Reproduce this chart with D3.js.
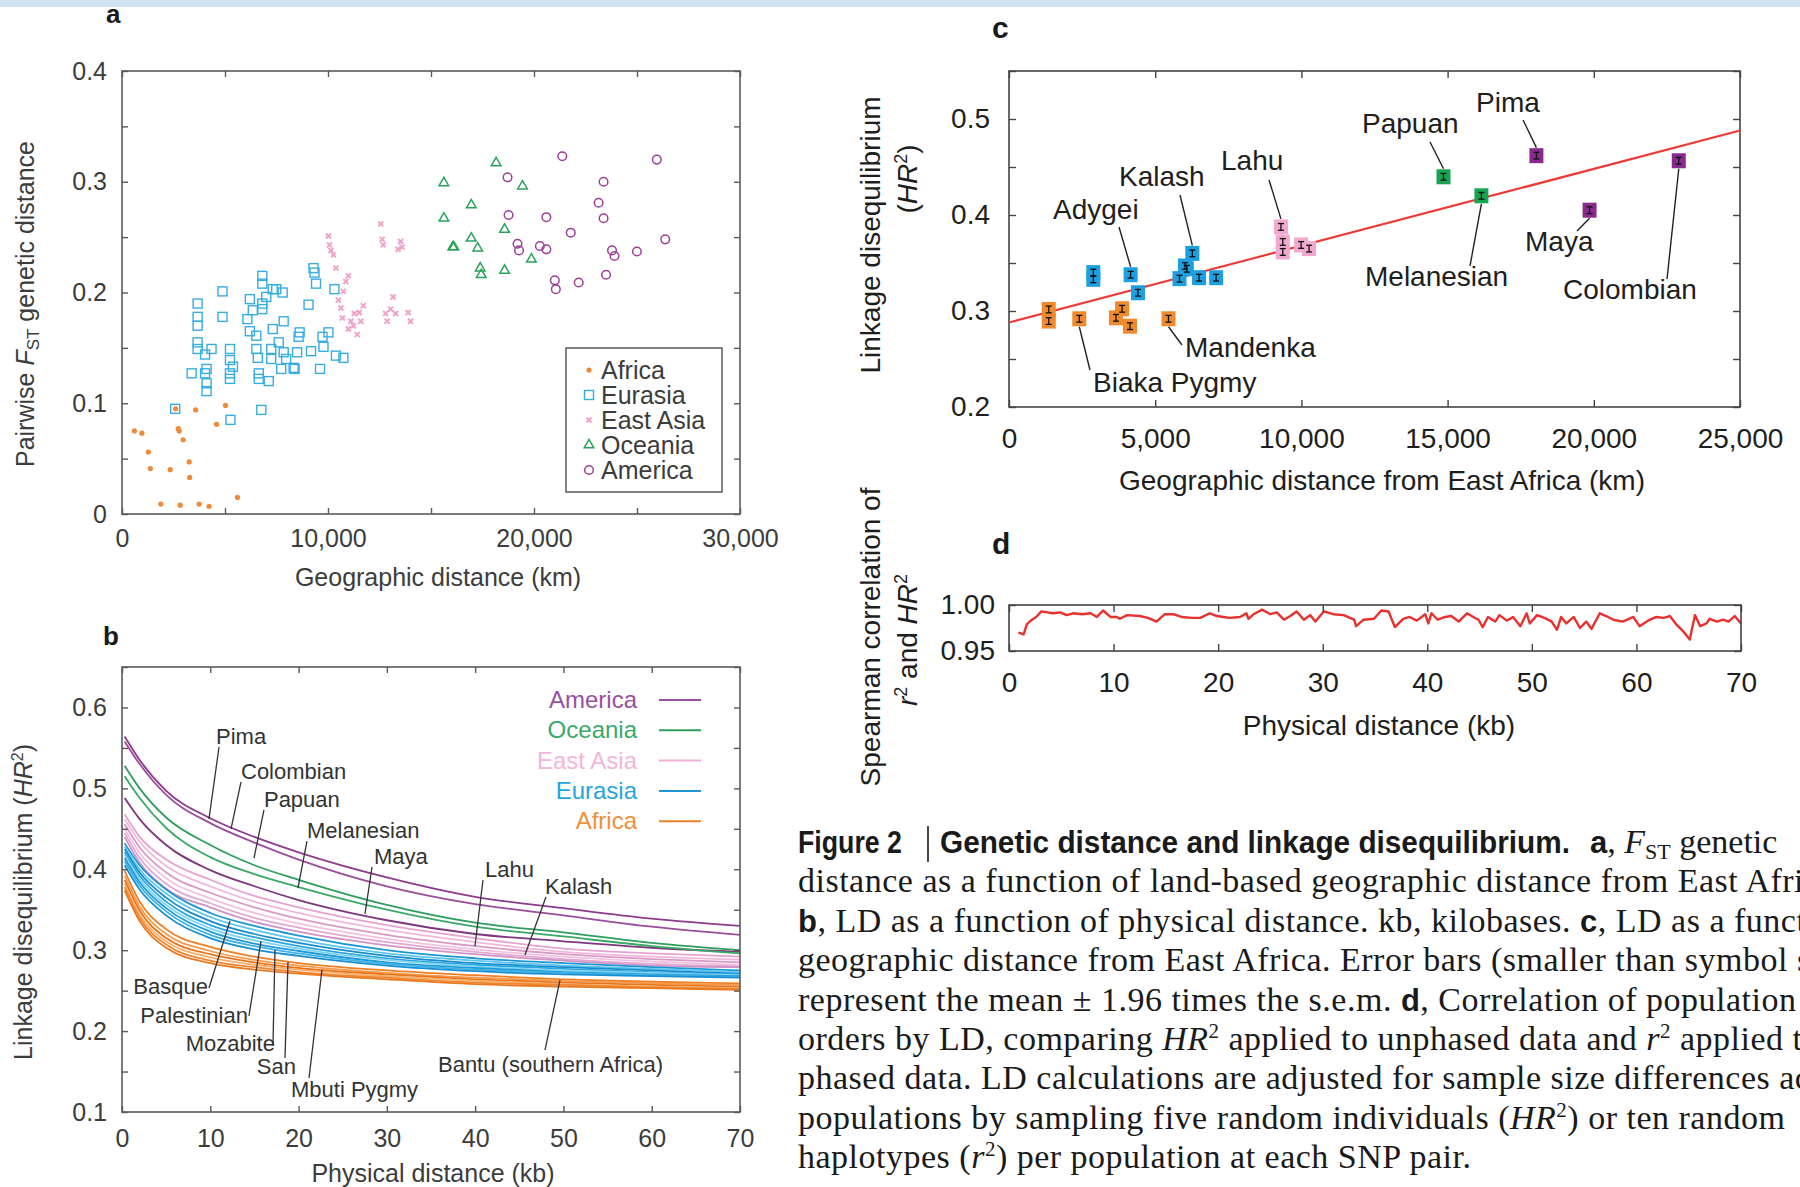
<!DOCTYPE html>
<html>
<head>
<meta charset="utf-8">
<script src="https://cdn.jsdelivr.net/npm/d3@7"></script>
<style>
  html, body { margin: 0; padding: 0; background: #fff; overflow: hidden; }
  svg { display: block; }
  svg text { font-family: "Liberation Sans", Arial, sans-serif; }
  svg text.cap { font-family: "Liberation Serif", "Times New Roman", serif; }
  svg text .bs, svg text.bs { font-family: "Liberation Sans Narrow", "Liberation Sans", Arial, sans-serif; font-weight: bold; }
</style>
</head>
<body>
<svg id="fig" width="1800" height="1187"></svg>
<script>
// ---------- panel a: pairwise FST vs geographic distance (km, FST) ----------
const fstAfrica = [[604,0.075],[966,0.073],[1280,0.056],[1377,0.041],[2343,0.040],[1884,0.009],[2826,0.008],
  [2729,0.077],[2778,0.075],[2971,0.067],[3261,0.047],[3285,0.033],[3575,0.094],[3744,0.009],[4227,0.007],
  [4589,0.081],[5024,0.098],[5604,0.015],[2600,0.095]];
const fstEurasia = [[2584,0.095],[3671,0.190],[3671,0.178],[3671,0.170],[3671,0.155],[3671,0.149],[3381,0.127],
  [4033,0.127],[4033,0.144],[4106,0.131],[4106,0.118],[4106,0.111],[4347,0.149],[4878,0.201],[4878,0.178],
  [5241,0.149],[5241,0.139],[5241,0.127],[5241,0.122],[5385,0.133],[5265,0.085],[6086,0.176],[6207,0.194],
  [6207,0.165],[6351,0.184],[6521,0.161],[6521,0.149],[6593,0.141],[6641,0.127],[6641,0.122],[6762,0.094],
  [6810,0.215],[6810,0.208],[6810,0.190],[6810,0.185],[7004,0.196],[7124,0.120],[7245,0.149],[7245,0.140],
  [7317,0.203],[7317,0.167],[7487,0.203],[7607,0.155],[7728,0.131],[7800,0.200],[7849,0.174],[7849,0.146],
  [7970,0.140],[8332,0.132],[8380,0.131],[8501,0.146],[8573,0.160],[8622,0.164],[9056,0.189],[9177,0.147],
  [9298,0.222],[9346,0.218],[9419,0.208],[9612,0.131],[9732,0.160],[9781,0.151],[10022,0.164],[10312,0.203],
  [10385,0.143],[10747,0.141]];
const fstEastAsia = [[10022,0.251],[10070,0.243],[10143,0.238],[10264,0.234],[10385,0.222],[10505,0.193],
  [10626,0.186],[10698,0.177],[10747,0.201],[10868,0.210],[10988,0.215],[10988,0.167],[11109,0.174],
  [11230,0.170],[11278,0.181],[11423,0.162],[11520,0.182],[11713,0.188],[11592,0.174],[12558,0.262],
  [12630,0.248],[12679,0.243],[12800,0.181],[12872,0.174],[13041,0.185],[13162,0.196],[13282,0.181],
  [13403,0.239],[13524,0.246],[13597,0.241],[13887,0.182],[14007,0.174]];
const fstOceania = [[15625,0.299],[15625,0.267],[16060,0.241],[16110,0.241],[16954,0.279],[16954,0.249],
  [17268,0.240],[17389,0.222],[17437,0.216],[18162,0.317],[18572,0.257],[18572,0.220],[19441,0.296],[19875,0.230]];
const fstAmerica = [[18716,0.304],[18765,0.270],[19200,0.244],[19272,0.238],[20286,0.242],[20600,0.268],
  [20600,0.239],[21011,0.211],[21059,0.203],[21373,0.323],[21783,0.254],[22170,0.209],[23136,0.281],
  [23377,0.300],[23377,0.267],[23498,0.216],[23788,0.238],[23909,0.233],[24995,0.237],[25961,0.320],[26372,0.248]];

// ---------- panel b: LD decay curves (kb, HR2) ----------
const ldKb = [0.3, 2, 5, 10, 15, 20, 30, 40, 50, 60, 70];
const ldAmerica = [
  [0.564,0.535,0.497,0.463,0.440,0.421,0.390,0.366,0.352,0.339,0.330],
  [0.558,0.530,0.492,0.457,0.433,0.412,0.379,0.357,0.343,0.329,0.319],
  [0.488,0.462,0.430,0.399,0.379,0.362,0.337,0.320,0.311,0.303,0.298]];
const ldOceania = [
  [0.528,0.500,0.464,0.430,0.405,0.387,0.356,0.334,0.322,0.309,0.300],
  [0.515,0.488,0.451,0.415,0.394,0.378,0.350,0.329,0.317,0.305,0.296]];
const ldEastAsia = [
  [0.468,0.440,0.412,0.387,0.367,0.353,0.331,0.315,0.302,0.296,0.292],
  [0.462,0.434,0.404,0.379,0.360,0.346,0.325,0.310,0.298,0.292,0.288],
  [0.456,0.427,0.396,0.371,0.353,0.339,0.319,0.305,0.295,0.289,0.285],
  [0.450,0.420,0.389,0.364,0.346,0.333,0.314,0.301,0.292,0.286,0.282],
  [0.445,0.414,0.382,0.358,0.340,0.328,0.310,0.298,0.289,0.283,0.280],
  [0.440,0.408,0.376,0.353,0.335,0.323,0.306,0.295,0.287,0.281,0.279]];
const ldEurasia = [
  [0.432,0.405,0.375,0.346,0.330,0.318,0.300,0.290,0.284,0.279,0.275],
  [0.428,0.400,0.370,0.341,0.325,0.313,0.296,0.287,0.281,0.277,0.273],
  [0.425,0.396,0.365,0.336,0.320,0.309,0.293,0.284,0.279,0.275,0.271],
  [0.421,0.392,0.360,0.331,0.316,0.305,0.290,0.282,0.277,0.273,0.270],
  [0.418,0.388,0.356,0.327,0.312,0.302,0.288,0.280,0.275,0.272,0.269],
  [0.414,0.384,0.352,0.323,0.308,0.299,0.285,0.278,0.273,0.270,0.268],
  [0.410,0.380,0.348,0.319,0.305,0.296,0.283,0.276,0.272,0.269,0.267],
  [0.405,0.375,0.343,0.315,0.301,0.293,0.281,0.274,0.270,0.268,0.266]];
const ldAfrica = [
  [0.398,0.360,0.326,0.304,0.292,0.284,0.275,0.269,0.264,0.261,0.259],
  [0.392,0.354,0.320,0.299,0.288,0.281,0.272,0.266,0.262,0.259,0.257],
  [0.387,0.349,0.315,0.295,0.285,0.278,0.270,0.264,0.260,0.257,0.255],
  [0.382,0.344,0.311,0.291,0.282,0.276,0.268,0.262,0.258,0.255,0.253],
  [0.378,0.340,0.307,0.287,0.279,0.273,0.266,0.260,0.257,0.254,0.252],
  [0.374,0.336,0.303,0.284,0.276,0.271,0.264,0.258,0.255,0.253,0.251]];

// ---------- panel c: LD vs distance from East Africa (km, HR2) ----------
const ldcAfrica = [[1359,0.3016],[1359,0.2895],[2404,0.2919],[3658,0.2929],[3867,0.3023],[4138,0.2842],[5455,0.2919]];
const ldcEurasia = [[2884,0.3400],[2884,0.3330],[4159,0.3378],[4410,0.3190],[5831,0.3337],[6019,0.3469],
  [6082,0.3440],[6270,0.3600],[6500,0.3347],[7085,0.3347]];
const ldcEastAsia = [[9300,0.3876],[9363,0.3719],[9363,0.3615],[9990,0.3688],[10262,0.3650]];
const ldcOceania = [[14860,0.4398],[16156,0.4200]];
const ldcAmerica = [[18037,0.4618],[19855,0.4050],[22906,0.4565]];
const ldcFit = [[0,0.288],[25000,0.488]];
const ldcErr = 0.0035;

// ---------- panel d: Spearman correlation (kb, rho) ----------
const spearman = [[0.9,0.970],[1.4,0.968],[1.7,0.979],[2.2,0.984],[2.6,0.987],[3.1,0.993],[4.2,0.991],[4.9,0.992],
  [5.5,0.989],[6.2,0.991],[7.0,0.990],[7.8,0.991],[8.4,0.987],[9.0,0.994],[9.7,0.987],[10.3,0.987],[10.6,0.985],
  [11.3,0.989],[12.5,0.988],[13.3,0.986],[14.1,0.982],[14.9,0.990],[15.7,0.990],[16.5,0.987],[17.5,0.986],
  [18.3,0.986],[19.2,0.991],[19.9,0.988],[20.5,0.987],[21.1,0.986],[22.1,0.987],[22.7,0.991],[22.9,0.985],
  [23.4,0.990],[24.2,0.995],[25.0,0.990],[25.6,0.992],[26.3,0.984],[26.9,0.988],[27.5,0.993],[28.2,0.984],
  [28.8,0.989],[29.3,0.982],[30.1,0.993],[31.0,0.990],[32.0,0.989],[33.0,0.984],[33.2,0.977],[33.9,0.984],
  [34.9,0.985],[35.6,0.994],[36.3,0.993],[36.9,0.976],[37.7,0.985],[38.3,0.987],[39.0,0.983],[39.8,0.990],
  [40.1,0.980],[40.4,0.991],[41.0,0.984],[41.7,0.987],[42.3,0.988],[43.0,0.982],[43.8,0.991],[44.4,0.987],
  [44.9,0.984],[45.3,0.976],[45.8,0.987],[46.5,0.982],[46.9,0.989],[47.6,0.983],[48.2,0.987],[48.9,0.977],
  [49.5,0.991],[49.8,0.980],[50.5,0.989],[51.2,0.986],[51.9,0.982],[52.4,0.973],[52.8,0.987],[53.3,0.980],
  [54.0,0.987],[54.6,0.975],[55.2,0.982],[55.7,0.974],[56.5,0.991],[57.1,0.988],[57.8,0.984],[58.7,0.982],
  [59.7,0.987],[60.3,0.977],[61.1,0.983],[61.9,0.987],[62.6,0.986],[63.2,0.988],[63.8,0.979],[64.5,0.971],
  [65.1,0.9625],[65.6,0.989],[66.1,0.977],[66.7,0.980],[67.0,0.985],[67.7,0.982],[68.3,0.984],[68.8,0.982],
  [69.4,0.988],[70.0,0.980]];

// ---------- ticks ----------
const fstXTicks = [0,5000,10000,15000,20000,25000,30000];
const fstXLabels = [0,10000,20000,30000];
const fstYTicks = [0,0.05,0.1,0.15,0.2,0.25,0.3,0.35,0.4];
const fstYLabels = [0,0.1,0.2,0.3,0.4];
const ldXTicks = [0,10,20,30,40,50,60,70];
const ldYTicks = [0.1,0.15,0.2,0.25,0.3,0.35,0.4,0.45,0.5,0.55,0.6,0.65];
const ldYLabels = [0.1,0.2,0.3,0.4,0.5,0.6];
const ldcXTicks = [0,5000,10000,15000,20000,25000];
const ldcYTicks = [0.2,0.25,0.3,0.35,0.4,0.45,0.5,0.55];
const ldcYLabels = [0.2,0.3,0.4,0.5];
const rhoYTicks = [0.95,1.0];

const svg = d3.select("#fig");
const near = (arr, v) => arr.some(a => Math.abs(a - v) < 1e-9);

// faint scan band at the top of the page
svg.append("rect").attr("width", 1800).attr("height", 7).attr("fill", "#d4e3f0");

function frame(g, x, y, o) {
  const [xa, xb] = x.range(), [ya, yb] = y.range();
  const style = sel => {
    sel.attr("font-family", null).attr("font-size", null);
    sel.select(".domain").remove();
    sel.selectAll(".tick line").attr("stroke", o.ink).attr("stroke-width", 1.4);
    sel.selectAll("text").attr("fill", o.text).style("font-size", o.fs + "px");
  };
  g.append("g").attr("transform", `translate(0,${ya})`)
    .call(d3.axisBottom(x).tickValues(o.xt).tickSizeInner(-o.tk).tickSizeOuter(0).tickPadding(o.px)
      .tickFormat(v => near(o.xl, v) ? o.fx(v) : "")).call(style);
  g.append("g").attr("transform", `translate(0,${yb})`)
    .call(d3.axisTop(x).tickValues(o.xt).tickSizeInner(-o.tk).tickSizeOuter(0).tickFormat("")).call(style);
  g.append("g").attr("transform", `translate(${xa},0)`)
    .call(d3.axisLeft(y).tickValues(o.yt).tickSizeInner(-o.tk).tickSizeOuter(0).tickPadding(o.py)
      .tickFormat(v => near(o.yl, v) ? o.fy(v) : "")).call(style);
  g.append("g").attr("transform", `translate(${xb},0)`)
    .call(d3.axisRight(y).tickValues(o.yt).tickSizeInner(-o.tk).tickSizeOuter(0).tickFormat("")).call(style);
  g.append("rect").attr("x", xa).attr("y", yb).attr("width", xb - xa).attr("height", ya - yb)
    .attr("fill", "none").attr("stroke", o.ink).attr("stroke-width", 1.6);
}

function panelLetter(t, x, y, size) {
  svg.append("text").attr("x", x).attr("y", y).text(t)
    .attr("font-weight", "bold").attr("font-size", size).attr("fill", "#1a1a1a");
}

// ================= panel a =================
{
  const g = svg.append("g");
  const x = d3.scaleLinear().domain([0, 30000]).range([122, 740]);
  const y = d3.scaleLinear().domain([0, 0.4]).range([514, 71]);
  const ink = "#5a5a5a", txt = "#3c3c3c";
  panelLetter("a", 106, 23, 26);
  frame(g, x, y, { xt: fstXTicks, xl: fstXLabels, fx: d3.format(","), yt: fstYTicks, yl: fstYLabels,
    fy: d => d === 0 ? "0" : d3.format(".1f")(d), tk: 6, px: 15, py: 15, fs: 25, ink, text: txt });

  const col = { africa: "#ee8a3a", eurasia: "#38ade2", eastAsia: "#efa3cb", oceania: "#2aa35a", america: "#9c3f98" };

  g.append("g").selectAll("rect").data(fstEurasia).join("rect")
    .attr("x", d => x(d[0]) - 4.5).attr("y", d => y(d[1]) - 4.5).attr("width", 9).attr("height", 9)
    .attr("fill", "none").attr("stroke", col.eurasia).attr("stroke-width", 1.4);
  g.append("g").selectAll("circle").data(fstAfrica).join("circle")
    .attr("cx", d => x(d[0])).attr("cy", d => y(d[1])).attr("r", 2.6).attr("fill", col.africa);
  const times = d3.symbol(d3.symbolTimes, 18);
  g.append("g").selectAll("path").data(fstEastAsia).join("path")
    .attr("d", times).attr("transform", d => `translate(${x(d[0])},${y(d[1])})`)
    .attr("fill", "none").attr("stroke", col.eastAsia).attr("stroke-width", 2);
  const tri = d3.symbol(d3.symbolTriangle, 40);
  g.append("g").selectAll("path").data(fstOceania).join("path")
    .attr("d", tri).attr("transform", d => `translate(${x(d[0])},${y(d[1])})`)
    .attr("fill", "none").attr("stroke", col.oceania).attr("stroke-width", 1.5);
  g.append("g").selectAll("circle").data(fstAmerica).join("circle")
    .attr("cx", d => x(d[0])).attr("cy", d => y(d[1])).attr("r", 4.3)
    .attr("fill", "none").attr("stroke", col.america).attr("stroke-width", 1.5);

  // legend
  const lg = g.append("g");
  lg.append("rect").attr("x", 566).attr("y", 348).attr("width", 156).attr("height", 144)
    .attr("fill", "#fff").attr("stroke", ink).attr("stroke-width", 1.5);
  const items = ["Africa", "Eurasia", "East Asia", "Oceania", "America"];
  const keys = ["africa", "eurasia", "eastAsia", "oceania", "america"];
  items.forEach((name, i) => {
    const cy = 370 + i * 25, cx = 589;
    const k = keys[i];
    if (k === "africa") lg.append("circle").attr("cx", cx).attr("cy", cy).attr("r", 2.6).attr("fill", col[k]);
    if (k === "eurasia") lg.append("rect").attr("x", cx - 4.5).attr("y", cy - 4.5).attr("width", 9).attr("height", 9)
      .attr("fill", "none").attr("stroke", col[k]).attr("stroke-width", 1.4);
    if (k === "eastAsia") lg.append("path").attr("d", times).attr("transform", `translate(${cx},${cy})`)
      .attr("stroke", col[k]).attr("stroke-width", 2);
    if (k === "oceania") lg.append("path").attr("d", tri).attr("transform", `translate(${cx},${cy})`)
      .attr("fill", "none").attr("stroke", col[k]).attr("stroke-width", 1.5);
    if (k === "america") lg.append("circle").attr("cx", cx).attr("cy", cy).attr("r", 4.3)
      .attr("fill", "none").attr("stroke", col[k]).attr("stroke-width", 1.5);
    lg.append("text").attr("x", 601).attr("y", cy + 9).text(name).attr("font-size", 25).attr("fill", txt);
  });

  g.append("text").attr("x", 438).attr("y", 586).attr("text-anchor", "middle")
    .attr("font-size", 25).attr("fill", txt).text("Geographic distance (km)");
  const yl = g.append("text").attr("transform", "translate(34,304) rotate(-90)").attr("text-anchor", "middle")
    .attr("font-size", 25).attr("fill", txt);
  yl.append("tspan").text("Pairwise ");
  yl.append("tspan").attr("font-style", "italic").text("F");
  yl.append("tspan").attr("font-size", 17).attr("dy", 5).text("ST");
  yl.append("tspan").attr("dy", -5).text(" genetic distance");
}

// ================= panel b =================
{
  const g = svg.append("g");
  const x = d3.scaleLinear().domain([0, 70]).range([122, 740]);
  const y = d3.scaleLinear().domain([0.1, 0.65]).range([1112, 667]);
  const ink = "#5a5a5a", txt = "#3c3c3c";
  panelLetter("b", 103, 645, 26);

  const line = d3.line().x((d, i) => x(ldKb[i])).y(d => y(d)).curve(d3.curveMonotoneX);
  const groups = [
    [ldAmerica, ["#8e3a8e", "#9b4c9b", "#7f3680"]],
    [ldOceania, ["#2f9e5c", "#3aa866"]],
    [ldEastAsia, ["#e6a2d2", "#f0b8dc", "#d99ac8", "#f3c2e0", "#e3a7d3", "#cf94c6"]],
    [ldEurasia, ["#1c96d4", "#5cc6ef", "#1a8ccc", "#2aa6e0", "#7dd3f2", "#1f9ad6", "#3db2e6", "#188fd0"]],
    [ldAfrica, ["#ef7f25", "#f59a4a", "#e8741c", "#f7ae6a", "#ee8630", "#e97a22"]]
  ];
  groups.forEach(([series, colors]) => {
    g.append("g").selectAll("path").data(series).join("path")
      .attr("d", line).attr("fill", "none")
      .attr("stroke", (d, i) => colors[i % colors.length]).attr("stroke-width", 1.8);
  });

  frame(g, x, y, { xt: ldXTicks, xl: ldXTicks, fx: d3.format("d"), yt: ldYTicks, yl: ldYLabels,
    fy: d3.format(".1f"), tk: 6, px: 17, py: 15, fs: 25, ink, text: txt });

  // legend
  const leg = [["America", "#9a4ea0", "#9a4ea0"], ["Oceania", "#3aa86a", "#2f9e5c"], ["East Asia", "#f3b5d9", "#eeb1d6"],
    ["Eurasia", "#27a4df", "#1c96d4"], ["Africa", "#f0903a", "#ef7f25"]];
  leg.forEach(([name, tc, lc], i) => {
    const cy = 700 + i * 30.3;
    g.append("text").attr("x", 637).attr("y", cy + 8).attr("text-anchor", "end")
      .attr("font-size", 24).attr("fill", tc).text(name);
    g.append("line").attr("x1", 659).attr("x2", 701).attr("y1", cy).attr("y2", cy)
      .attr("stroke", lc).attr("stroke-width", 2);
  });

  // population call-outs: [name, text kb, text value, anchor, line start kb, value, line end kb, value]
  const notes = [
    ["Pima", 10.65, 0.5548, "start", 10.99, 0.5511, 9.85, 0.4621],
    ["Colombian", 13.48, 0.5116, "start", 13.48, 0.5079, 12.35, 0.4498],
    ["Papuan", 16.08, 0.4770, "start", 16.08, 0.4733, 14.95, 0.4139],
    ["Melanesian", 20.95, 0.4386, "start", 20.95, 0.4349, 19.93, 0.3768],
    ["Maya", 28.54, 0.4065, "start", 28.32, 0.4028, 27.52, 0.3447],
    ["Lahu", 41.11, 0.3904, "start", 40.89, 0.3867, 39.98, 0.3052],
    ["Kalash", 47.91, 0.3694, "start", 48.02, 0.3657, 45.64, 0.2940],
    ["Basque", 9.74, 0.2458, "end", 9.85, 0.2533, 12.23, 0.3361],
    ["Palestinian", 14.27, 0.2100, "end", 14.38, 0.2187, 15.74, 0.3113],
    ["Mozabite", 17.33, 0.1754, "end", 17.10, 0.1816, 17.33, 0.3002],
    ["San", 19.71, 0.1470, "end", 18.46, 0.1667, 18.80, 0.2854],
    ["Mbuti Pygmy", 19.14, 0.1185, "start", 21.18, 0.1420, 22.65, 0.2755],
    ["Bantu (southern Africa)", 35.79, 0.1494, "start", 47.91, 0.1766, 49.61, 0.2631]
  ];
  notes.forEach(n => {
    g.append("line").attr("x1", x(n[4])).attr("y1", y(n[5])).attr("x2", x(n[6])).attr("y2", y(n[7]))
      .attr("stroke", "#333").attr("stroke-width", 1.3);
    g.append("text").attr("x", x(n[1])).attr("y", y(n[2])).attr("text-anchor", n[3])
      .attr("font-size", 22).attr("fill", "#333").text(n[0]);
  });

  g.append("text").attr("x", 433).attr("y", 1182).attr("text-anchor", "middle")
    .attr("font-size", 25).attr("fill", txt).text("Physical distance (kb)");
  const yl = g.append("text").attr("transform", "translate(32,902) rotate(-90)").attr("text-anchor", "middle")
    .attr("font-size", 25).attr("fill", txt);
  yl.append("tspan").text("Linkage disequilibrium (");
  yl.append("tspan").attr("font-style", "italic").text("HR");
  yl.append("tspan").attr("font-size", 16).attr("dy", -9).text("2");
  yl.append("tspan").attr("dy", 9).text(")");
}

// ================= panel c =================
{
  const g = svg.append("g");
  const x = d3.scaleLinear().domain([0, 25000]).range([1009, 1740]);
  const y = d3.scaleLinear().domain([0.2, 0.55]).range([407, 71]);
  const ink = "#444", txt = "#1e1e1e";
  panelLetter("c", 992, 38, 30);
  frame(g, x, y, { xt: ldcXTicks, xl: ldcXTicks, fx: d3.format(","), yt: ldcYTicks, yl: ldcYLabels,
    fy: d3.format(".1f"), tk: 7, px: 21, py: 19, fs: 28, ink, text: txt });

  g.append("path").datum(ldcFit).attr("d", d3.line().x(d => x(d[0])).y(d => y(d[1])))
    .attr("stroke", "#ee3a36").attr("stroke-width", 2.2).attr("fill", "none");

  const sets = [[ldcAfrica, "#f08a2c"], [ldcEurasia, "#1e9fdf"], [ldcEastAsia, "#f2a9cf"],
    [ldcOceania, "#17a552"], [ldcAmerica, "#8a2a8c"]];
  sets.forEach(([pts, c]) => {
    const pg = g.append("g").selectAll("g").data(pts).join("g")
      .attr("transform", d => `translate(${x(d[0])},${y(d[1])})`);
    pg.append("rect").attr("x", -7).attr("y", -7.5).attr("width", 14).attr("height", 15).attr("fill", c);
  });
  // error bars on top of all symbols
  const allPts = sets.flatMap(s => s[0]);
  const eb = g.append("g").selectAll("g").data(allPts).join("g");
  eb.append("line").attr("x1", d => x(d[0])).attr("x2", d => x(d[0]))
    .attr("y1", d => y(d[1] - ldcErr)).attr("y2", d => y(d[1] + ldcErr)).attr("stroke", "#111").attr("stroke-width", 1.3);
  [-1, 1].forEach(s => eb.append("line").attr("x1", d => x(d[0]) - 3).attr("x2", d => x(d[0]) + 3)
    .attr("y1", d => y(d[1] + s * ldcErr)).attr("y2", d => y(d[1] + s * ldcErr)).attr("stroke", "#111").attr("stroke-width", 1.3));

  // call-outs: [name, text km, text value, line start km, value, target point, side]
  const notes = [
    ["Pima", 15971, 0.5073, 17579, 0.4990, ldcAmerica[0], -1],
    ["Papuan", 12073, 0.4854, 14398, 0.4760, ldcOceania[0], -1],
    ["Lahu", 7250, 0.4469, 8892, 0.4365, ldcEastAsia[0], -1],
    ["Kalash", 3762, 0.4302, 5848, 0.4208, ldcEurasia[7], -1],
    ["Adygei", 1505, 0.3958, 3762, 0.3875, ldcEurasia[2], -1],
    ["Melanesian", 12175, 0.3260, 15766, 0.3469, ldcOceania[1], 1],
    ["Maya", 17647, 0.3625, 19426, 0.3833, ldcAmerica[1], 1],
    ["Colombian", 18947, 0.3125, 22504, 0.3333, ldcAmerica[2], 1],
    ["Mandenka", 6019, 0.2521, 5917, 0.2646, ldcAfrica[6], 1],
    ["Biaka Pygmy", 2873, 0.2156, 2770, 0.2385, ldcAfrica[2], 1]
  ];
  notes.forEach(n => {
    const p = n[5];
    g.append("line").attr("x1", x(n[3])).attr("y1", y(n[4])).attr("x2", x(p[0])).attr("y2", y(p[1]) + n[6] * 8)
      .attr("stroke", "#222").attr("stroke-width", 1.4);
    g.append("text").attr("x", x(n[1])).attr("y", y(n[2])).attr("font-size", 28).attr("fill", txt).text(n[0]);
  });

  g.append("text").attr("x", 1382).attr("y", 490).attr("text-anchor", "middle")
    .attr("font-size", 28).attr("fill", txt).text("Geographic distance from East Africa (km)");
  g.append("text").attr("transform", "translate(880,235) rotate(-90)").attr("text-anchor", "middle")
    .attr("font-size", 28).attr("fill", txt).text("Linkage disequilibrium");
  const y2 = g.append("text").attr("transform", "translate(917,179) rotate(-90)").attr("text-anchor", "middle")
    .attr("font-size", 28).attr("fill", txt);
  y2.append("tspan").text("(");
  y2.append("tspan").attr("font-style", "italic").text("HR");
  y2.append("tspan").attr("font-size", 18).attr("dy", -10).text("2");
  y2.append("tspan").attr("dy", 10).text(")");
}

// ================= panel d =================
{
  const g = svg.append("g");
  const x = d3.scaleLinear().domain([0, 70]).range([1009, 1741]);
  const y = d3.scaleLinear().domain([0.95, 1.0]).range([651, 605]);
  const ink = "#444", txt = "#1e1e1e";
  panelLetter("d", 992, 554, 30);
  g.append("path").datum(spearman).attr("d", d3.line().x(d => x(d[0])).y(d => y(d[1])))
    .attr("stroke", "#e8302e").attr("stroke-width", 2.4).attr("fill", "none").attr("stroke-linejoin", "round");
  frame(g, x, y, { xt: ldXTicks, xl: ldXTicks, fx: d3.format("d"), yt: rhoYTicks, yl: rhoYTicks,
    fy: d3.format(".2f"), tk: 7, px: 21, py: 14, fs: 28, ink, text: txt });

  g.append("text").attr("x", 1379).attr("y", 735).attr("text-anchor", "middle")
    .attr("font-size", 28).attr("fill", txt).text("Physical distance (kb)");
  g.append("text").attr("transform", "translate(880,637) rotate(-90)").attr("text-anchor", "middle")
    .attr("font-size", 28).attr("fill", txt).text("Spearman correlation of");
  const y2 = g.append("text").attr("transform", "translate(917,640) rotate(-90)").attr("text-anchor", "middle")
    .attr("font-size", 28).attr("fill", txt);
  y2.append("tspan").attr("font-style", "italic").text("r");
  y2.append("tspan").attr("font-size", 18).attr("dy", -10).text("2");
  y2.append("tspan").attr("dy", 10).text(" and ");
  y2.append("tspan").attr("font-style", "italic").text("HR");
  y2.append("tspan").attr("font-size", 18).attr("dy", -10).text("2");
}

// ================= caption =================
{
  const cap = svg.append("g").attr("fill", "#1a1a1a");
  const fs = 34, x0 = 798, lead = 39.4, base = 853;

  // title line
  cap.append("text").attr("class", "bs").attr("x", x0).attr("y", base)
    .attr("font-size", 31).attr("textLength", 104).attr("lengthAdjust", "spacingAndGlyphs").text("Figure 2");
  cap.append("line").attr("x1", 928).attr("x2", 928).attr("y1", 826).attr("y2", 862)
    .attr("stroke", "#1a1a1a").attr("stroke-width", 1.6);
  cap.append("text").attr("class", "bs").attr("x", 940).attr("y", base)
    .attr("font-size", 31).attr("textLength", 630).attr("lengthAdjust", "spacingAndGlyphs")
    .text("Genetic distance and linkage disequilibrium.");
  const t1 = cap.append("text").attr("class", "cap").attr("x", 1590).attr("y", base).attr("font-size", fs);
  t1.append("tspan").attr("class", "bs").attr("font-size", 31).text("a");
  t1.append("tspan").text(", ");
  t1.append("tspan").attr("font-style", "italic").text("F");
  t1.append("tspan").attr("font-size", 22).attr("dy", 6).text("ST");
  t1.append("tspan").attr("dy", -6).text(" genetic");

  const lines = [
    [["distance as a function of land-based geographic distance from East Africa.", "r"]],
    [["b", "b"], [", LD as a function of physical distance. kb, kilobases. ", "r"], ["c", "b"], [", LD as a function of", "r"]],
    [["geographic distance from East Africa. Error bars (smaller than symbol size)", "r"]],
    [["represent the mean \u00b1 1.96 times the s.e.m. ", "r"], ["d", "b"], [", Correlation of population rank", "r"]],
    [["orders by LD, comparing ", "r"], ["HR", "i"], ["2", "sup"], [" applied to unphased data and ", "r"], ["r", "i"], ["2", "sup"], [" applied to", "r"]],
    [["phased data. LD calculations are adjusted for sample size differences across", "r"]],
    [["populations by sampling five random individuals (", "r"], ["HR", "i"], ["2", "sup"], [") or ten random", "r"]],
    [["haplotypes (", "r"], ["r", "i"], ["2", "sup"], [") per population at each SNP pair.", "r"]]
  ];
  lines.forEach((segs, i) => {
    const t = cap.append("text").attr("class", "cap").attr("x", x0).attr("y", base + (i + 1) * lead)
      .attr("font-size", fs).attr("letter-spacing", 0.5);
    segs.forEach(([s, k]) => {
      const sp = t.append("tspan").text(s);
      if (k === "b") sp.attr("class", "bs").attr("font-size", 31);
      if (k === "i") sp.attr("font-style", "italic");
      if (k === "sup") sp.attr("font-size", 21).attr("baseline-shift", "super");
    });
  });
}
</script>
</body>
</html>
